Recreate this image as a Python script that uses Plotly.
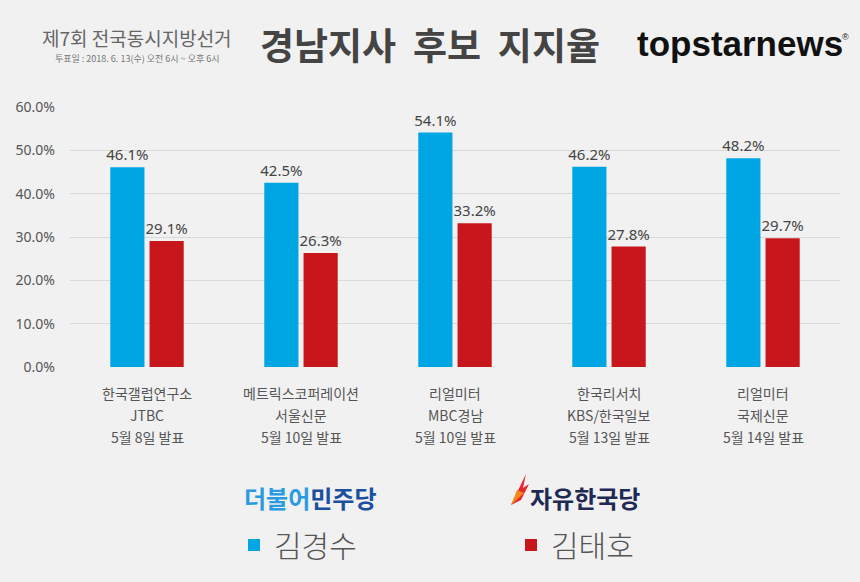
import plotly.graph_objects as go

categories = ["한국갤럽연구소", "메트릭스코퍼레이션", "리얼미터", "한국리서치", "리얼미터"]
cat_keys = ["c1", "c2", "c3", "c4", "c5"]
sponsors = ["JTBC", "서울신문", "MBC경남", "KBS/한국일보", "국제신문"]
dates = ["5월 8일 발표", "5월 10일 발표", "5월 10일 발표", "5월 13일 발표", "5월 14일 발표"]
kim_ks = [46.1, 42.5, 54.1, 46.2, 48.2]
kim_th = [29.1, 26.3, 33.2, 27.8, 29.7]
series_names = ["김경수", "김태호"]
y_ticks = [0, 10, 20, 30, 40, 50, 60]

BLUE = "#00A5E3"
RED = "#C8161D"
BG = "#F1F1F1"
KR = "Noto Sans CJK KR"
NUM = "Noto Sans"

W, H = 860, 582
L, R, T, B = 70, 20, 107, 215
PW, PH = W - L - R, H - T - B

def px(x):
    return (x - L) / PW

def py(y):
    return (H - B - y) / PH

fig = go.Figure()
for name, vals, col in [(series_names[0], kim_ks, BLUE), (series_names[1], kim_th, RED)]:
    fig.add_trace(go.Bar(
        x=cat_keys, y=vals, name=name, marker=dict(color=col, line=dict(width=0)),
        texttemplate="%{y:.1f}%", textposition="outside", constraintext="none",
        textfont=dict(family=NUM, size=15, color="#444"),
        cliponaxis=False, hoverinfo="skip",
    ))

annotations = []
for i, key in enumerate(cat_keys):
    for j, line in enumerate([categories[i], sponsors[i], dates[i]]):
        annotations.append(dict(
            x=key, xref="x", y=0, yref="paper", yanchor="middle",
            yshift=-(26 + 22 * j), text=line, showarrow=False,
            font=dict(family=KR, size=14, color="#555"),
        ))

# header texts
annotations += [
    dict(x=px(40), y=py(37), xref="paper", yref="paper", xanchor="left", yanchor="middle",
         text="제7회 전국동시지방선거", showarrow=False,
         font=dict(family=KR, size=19, color="#666")),
    dict(x=px(53), y=py(58), xref="paper", yref="paper", xanchor="left", yanchor="middle",
         text="투표일 : 2018. 6. 13(수) 오전 6시 ~ 오후 6시", showarrow=False,
         font=dict(family=KR, size=9, color="#777")),
    dict(x=px(430), y=py(44), xref="paper", yref="paper", xanchor="center", yanchor="middle",
         text="경남지사  후보  지지율", showarrow=False,
         font=dict(family=KR, size=37, color="#444", weight="bold")),
    dict(x=px(740), y=py(43), xref="paper", yref="paper", xanchor="center", yanchor="middle",
         text="topstarnews", showarrow=False,
         font=dict(family="Liberation Sans", size=35, color="#111", weight="bold")),
    dict(x=px(845), y=py(37), xref="paper", yref="paper", xanchor="center", yanchor="middle",
         text="®", showarrow=False,
         font=dict(family="Liberation Sans", size=9, color="#111")),
    dict(x=px(310), y=py(497), xref="paper", yref="paper", xanchor="center", yanchor="middle",
         text="<span style='color:#2A9BE0'>더불어</span><span style='color:#1B4FA0'>민주당</span>",
         showarrow=False, font=dict(family=KR, size=24, color="#1B4FA0", weight="bold")),
    dict(x=px(585), y=py(497), xref="paper", yref="paper", xanchor="center", yanchor="middle",
         text="자유한국당", showarrow=False,
         font=dict(family=KR, size=24, color="#1E2A55", weight="bold")),
]

shapes = [
    # flame icon of 자유한국당 logo
    dict(type="path", xref="paper", yref="paper",
         path=f"M {px(511)},{py(505)} L {px(526)},{py(474)} L {px(523)},{py(488)} L {px(529)},{py(484)} L {px(521)},{py(500)} Z",
         fillcolor="#E8262C", line=dict(width=0)),
    dict(type="path", xref="paper", yref="paper",
         path=f"M {px(511)},{py(505)} L {px(517)},{py(490)} L {px(524)},{py(493)} Z",
         fillcolor="#F28A1E", line=dict(width=0)),
]

fig.update_layout(
    width=W, height=H,
    margin=dict(l=L, r=R, t=T, b=B, pad=0, autoexpand=False),
    paper_bgcolor=BG, plot_bgcolor=BG,
    barmode="group", bargap=0.49, bargroupgap=0.13,
    showlegend=True, hovermode=False,
    legend=dict(orientation="h", x=px(234), y=py(519), xanchor="left", yanchor="top",
                entrywidth=232, entrywidthmode="pixels", itemwidth=30,
                font=dict(family=KR, size=30, color="#555", weight=300), bgcolor="rgba(0,0,0,0)"),
    xaxis=dict(showticklabels=False, showgrid=False, zeroline=False, showline=False, ticks=""),
    yaxis=dict(range=[0, 60], tickvals=y_ticks, ticktext=[f"{v:.1f}%" for v in y_ticks],
               showgrid=True, gridcolor="#D9D9D9", gridwidth=1, zeroline=False,
               tickfont=dict(family=NUM, size=14, color="#555"), ticklabelstandoff=14,
               showline=False, ticks=""),
    annotations=annotations, shapes=shapes,
)

fig.write_html("out.html", config={"displayModeBar": False},
               post_script="document.body.style.margin='0px';")
